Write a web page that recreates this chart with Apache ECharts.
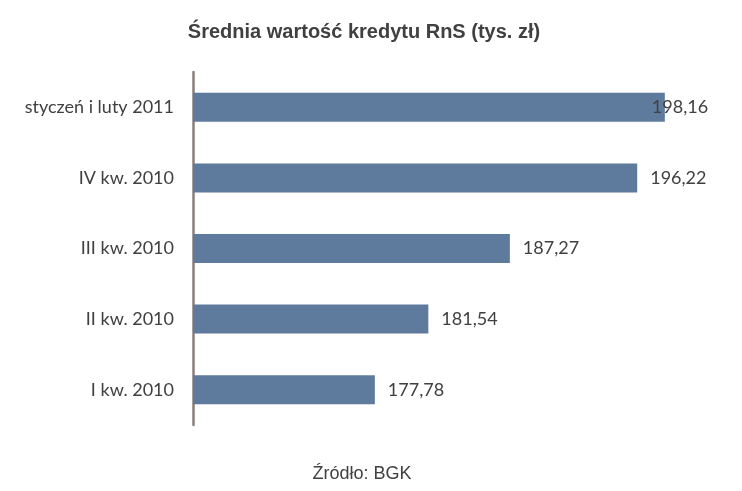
<!DOCTYPE html>
<html>
<head>
<meta charset="utf-8">
<script src="https://cdn.jsdelivr.net/npm/echarts@6/dist/echarts.min.js"></script>
<style>
html,body{margin:0;padding:0;background:#fff;}
#chart{width:742px;height:491px;}
</style>
</head>
<body>
<div id="chart"></div>
<script>
const categories = ["I kw. 2010", "II kw. 2010", "III kw. 2010", "IV kw. 2010", "styczeń i luty 2011"];
const values = [177.78, 181.54, 187.27, 196.22, 198.16];
const titleText = "Średnia wartość kredytu RnS (tys. zł)";
const sourceText = "Źródło: BGK";

const fmt = v => v.toFixed(2).replace('.', ',');
const chart = echarts.init(document.getElementById('chart'));
chart.setOption({
  backgroundColor: '#ffffff',
  animation: false,
  title: [
    { text: titleText, left: 359, top: 17, textAlign: 'center',
      textStyle: { fontFamily: 'Liberation Sans, Arial', fontWeight: 'bold', fontSize: 20, color: '#404040' } },
    { text: sourceText, left: 357, top: 460, textAlign: 'center',
      textStyle: { fontFamily: 'Liberation Sans, Arial', fontWeight: 'normal', fontSize: 18, color: '#404040' } }
  ],
  grid: { left: 193, right: 51, top: 72, bottom: 66, containLabel: false },
  xAxis: {
    type: 'value', min: 165, max: 200, interval: 5, show: false
  },
  yAxis: {
    type: 'category', data: categories,
    axisLine: { show: true, lineStyle: { color: '#8a7f7c', width: 2.5 } },
    axisTick: { show: false },
    axisLabel: { fontFamily: 'Lato, Carlito, Calibri, sans-serif', fontSize: 18, color: '#404040', margin: 19 }
  },
  series: [{
    type: 'bar',
    data: values.map((v, i) => ({
      value: v,
      label: i === values.length - 1 ? { offset: [-26, 0] } : {}
    })),
    barWidth: 29,
    itemStyle: { color: '#5e7a9c' },
    label: {
      show: true, position: 'right', distance: 13,
      formatter: p => fmt(p.value),
      fontFamily: 'Lato, Carlito, Calibri, sans-serif', fontSize: 18, color: '#404040'
    }
  }]
});
</script>
</body>
</html>
